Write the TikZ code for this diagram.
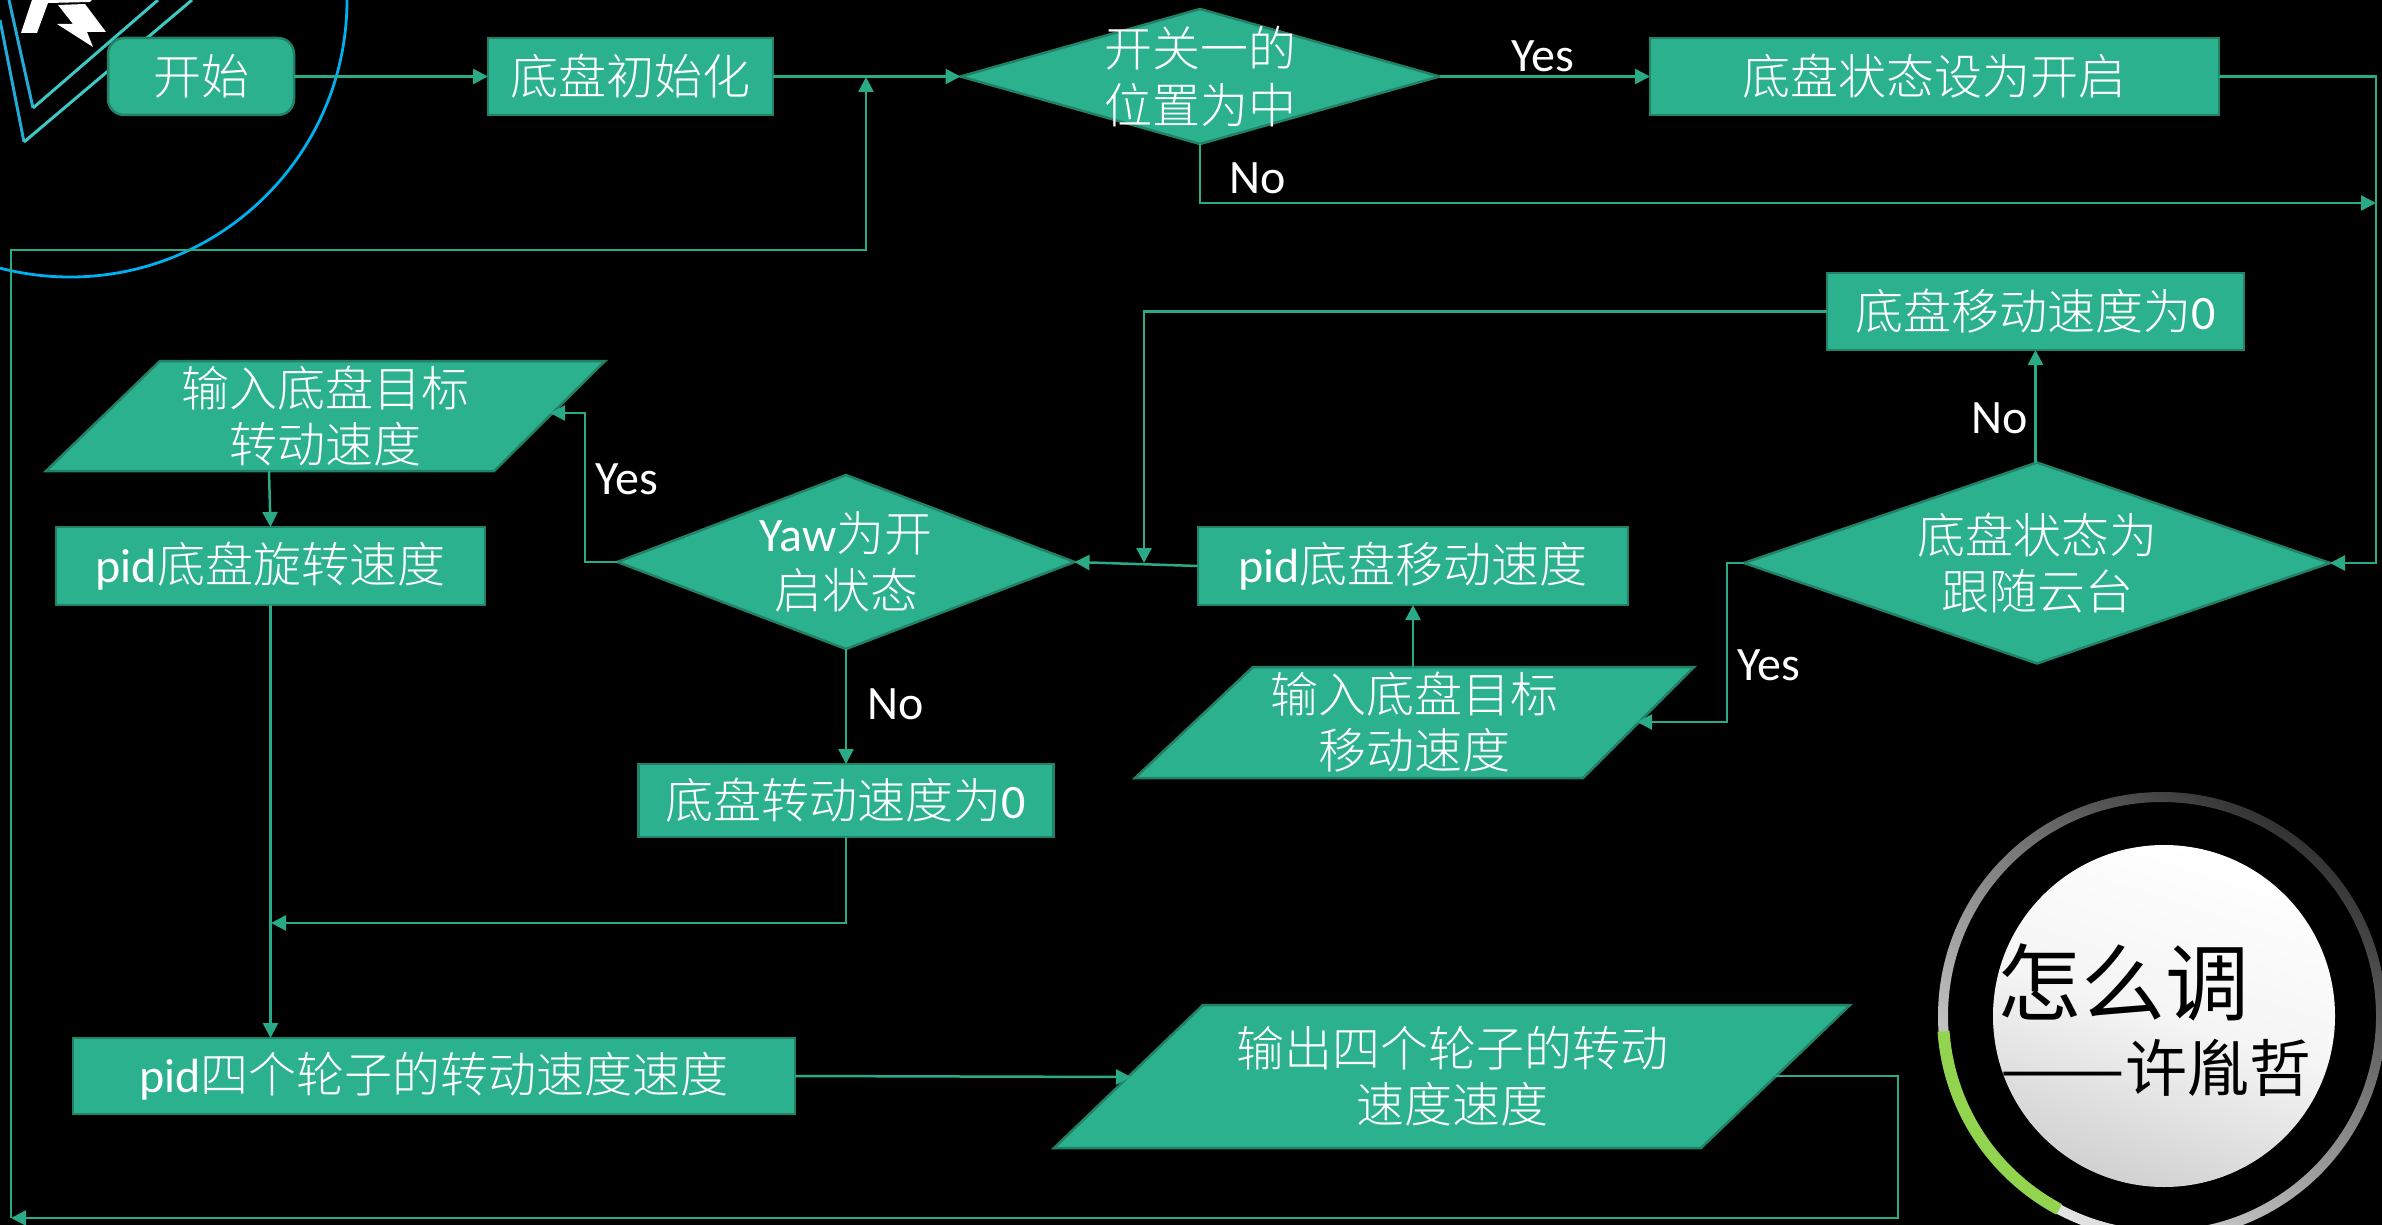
\documentclass[tikz,border=0pt]{standalone}
\usepackage{fontspec}
\usepackage{graphicx}
\setmainfont{Carlito}
\newfontfamily\cjk{Noto Sans CJK SC Light}
\newfontfamily\cjkblack{Noto Sans CJK SC}
\usetikzlibrary{shapes.geometric,arrows.meta,calc}
\definecolor{gfill}{RGB}{44,177,142}
\definecolor{gedge}{RGB}{33,130,104}
\definecolor{gline}{RGB}{43,170,135}
\definecolor{cyanring}{RGB}{0,176,240}
\definecolor{armblue}{RGB}{35,170,215}
\definecolor{armteal}{RGB}{62,200,196}
\definecolor{ringgreen}{RGB}{146,212,80}
\newcommand\zh[1]{{\cjk #1}}
\newcommand\ztext[1]{\smash{\makebox[0pt][c]{\raisebox{-9.5pt}{\begin{tabular}{@{}c@{}}#1\end{tabular}}}}}
\tikzset{
  x=0.5pt,y=-0.5pt,
  labelfont/.style={font=\fontsize{24}{28}\selectfont,text=white},
  pbox/.style={draw=gedge,fill=gfill,line width=1.25pt,inner sep=0pt,outer sep=0pt,labelfont,align=center},
  roundbox/.style={pbox,rounded corners=8pt},
  decision/.style={pbox,diamond},
  ioshape/.style={draw=gedge,fill=gfill,line width=1.25pt},
  iotext/.style={labelfont,align=center,inner sep=0pt},
  flow/.style={draw=gline,line width=1.25pt,-{Triangle[length=7.5pt,width=7.5pt]}},
  branch/.style={labelfont,inner sep=0pt},
}
\begin{document}
\begin{tikzpicture}
\fill[black] (0,0) rectangle (2382,1225);
\useasboundingbox (0,0) rectangle (2382,1225);
\begin{scope}
\clip (0,0) rectangle (2382,1225);
% logo
\draw[armblue,line width=1.5pt] (0,20) -- (24,142);
\draw[armteal,line width=1.5pt] (24,142) -- (192,0);
\draw[armblue,line width=1.5pt] (9,0) -- (33,108);
\draw[armteal,line width=1.5pt] (33,108) -- (158,0);
\fill[white] (32,0) -- (21,33) -- (37,33) -- (48,3) -- (90,2) -- (92,0) -- cycle;
\fill[white] (58,5) -- (85,4) -- (106,32) -- (87,32) -- (93,47) -- (57,24) -- (73,24) -- cycle;
\draw[cyanring,line width=1.4pt] (70,0) circle (277);
% badge
\shade[even odd rule,top color=black!80,bottom color=black!10,shading angle=-35] (2162,1016) circle (224) (2162,1016) circle (214);
\draw[ringgreen,line width=6pt] (2162,1016) ++(176:219) arc[start angle=176,end angle=118,radius=219];
\shade[top color=white,bottom color=black!18,middle color=black!4,shading angle=-18] (2164,1016) circle (171);
\end{scope}

% parallelograms
\draw[ioshape] (1135,778) -- (1253,667) -- (1694,667) -- (1583,778) -- cycle;
\draw[ioshape] (46,471) -- (160,361) -- (605,361) -- (494,471) -- cycle;
\draw[ioshape] (1054,1148) -- (1203,1005) -- (1850,1005) -- (1701,1148) -- cycle;

% nodes
\node[roundbox,minimum width=93pt,minimum height=38.5pt] (start) at (201,76.5) {\zh{开始}};
\node[pbox,minimum width=142.5pt,minimum height=38.5pt] (init) at (630.5,76.5) {\zh{底盘初始化}};
\node[decision,minimum width=239.5pt,minimum height=67.5pt,aspect=3.55] (sw) at (1200,76.5) {\ztext{\zh{开关一的}\\\zh{位置为中}}};
\node[pbox,minimum width=284.5pt,minimum height=38.5pt] (on) at (1934.5,76.5) {\zh{底盘状态设为开启}};
\node[pbox,minimum width=208.5pt,minimum height=38.5pt] (mvzero) at (2035.5,311.5) {\zh{底盘移动速度为}0};
\node[decision,minimum width=293pt,minimum height=100.5pt,aspect=2.915] (follow) at (2037,563) {\ztext{\zh{底盘状态为}\\\zh{跟随云台}}};
\node[pbox,minimum width=215pt,minimum height=39pt] (pidm) at (1413,566) {pid\zh{底盘移动速度}};
\node[iotext] (inm) at (1414.5,722.5) {\zh{输入底盘目标}\\\zh{移动速度}};
\node[decision,minimum width=228.5pt,minimum height=87pt,aspect=2.626] (yaw) at (846,562) {\ztext{Yaw\zh{为开}\\\zh{启状态}}};
\node[iotext] (inr) at (325.5,416) {\zh{输入底盘目标}\\\zh{转动速度}};
\node[pbox,minimum width=214.5pt,minimum height=39pt] (pidr) at (270.5,566) {pid\zh{底盘旋转速度}};
\node[pbox,minimum width=207.5pt,minimum height=36.5pt] (zero) at (846,800.5) {\zh{底盘转动速度为}0};
\node[pbox,minimum width=361pt,minimum height=38pt] (wheel) at (434,1076) {pid\zh{四个轮子的转动速度速度}};
\node[iotext] (out) at (1452,1076.5) {\zh{输出四个轮子的转动}\\\zh{速度速度}};

% badge text
\node[inner sep=0pt,text=black,font=\fontsize{42}{42}\selectfont\cjkblack,anchor=west] (t1) at (1997,982) {怎么调};
\node[inner sep=0pt,text=black,font=\fontsize{31}{31}\selectfont\cjkblack,anchor=west] (t2) at (2000,1068) {\scalebox{1.2}[1]{——}许胤哲};

% helper points
\coordinate (noturn) at (sw.south |- 0,203);
\coordinate (rt) at (2376,203);
\coordinate (tee) at (1144,563);
\coordinate (flx) at (1727,563);
\coordinate (yawx) at (585,562);
\coordinate (mrg) at (271,923);
\coordinate (outb) at (1898,1218);
\coordinate (bl) at (11,1218);
\coordinate (tl) at (11,250);
\coordinate (tr) at (866,250);
\coordinate (back) at (866,77);
\coordinate (inmE) at (1637,722);
\coordinate (inmN) at (1413,667);
\coordinate (inrE) at (550,413);
\coordinate (inrS) at (269,471);
\coordinate (outW) at (1131,1077);
\coordinate (outE) at (1775,1076);

% connectors
\draw[flow] (start.east) -- (init.west);
\draw[flow] (init.east) -- (sw.west);
\draw[flow] (sw.east) -- (on.west);
\draw[flow] (sw.south) -- (noturn) -- (rt);
\draw[flow] (on.east) -- (on.east -| rt) -- (rt) |- (follow.east);
\draw[flow] (mvzero.south |- follow.north) -- (mvzero.south);
\draw[flow] (mvzero.west) -| (tee);
\draw[flow] (pidm.west) -- (yaw.east);
\draw[flow] (inmN) -- (pidm.south);
\draw[flow] (follow.west) -- (flx) |- (inmE);
\draw[flow] (yaw.west) -- (yawx) |- (inrE);
\draw[flow] (inrS) -- (pidr.north);
\draw[flow] (yaw.south) -- (zero.north);
\draw[flow] (zero.south) |- (mrg);
\draw[flow] (pidr.south) -- (pidr.south |- wheel.north);
\draw[flow] (wheel.east) -- (outW);
\draw[flow] (outE) -- (outE -| outb) -- (outb) -- (bl);
\draw[flow] (bl) -- (tl) -- (tr) -- (back);

% branch labels
\node[branch] (l1) at (1543,56) {Yes};
\node[branch] (l2) at (1258,178) {No};
\node[branch] (l3) at (2000,418) {No};
\node[branch] (l4) at (1769,665) {Yes};
\node[branch] (l5) at (627,479) {Yes};
\node[branch] (l6) at (896,704) {No};
\end{tikzpicture}
\end{document}
